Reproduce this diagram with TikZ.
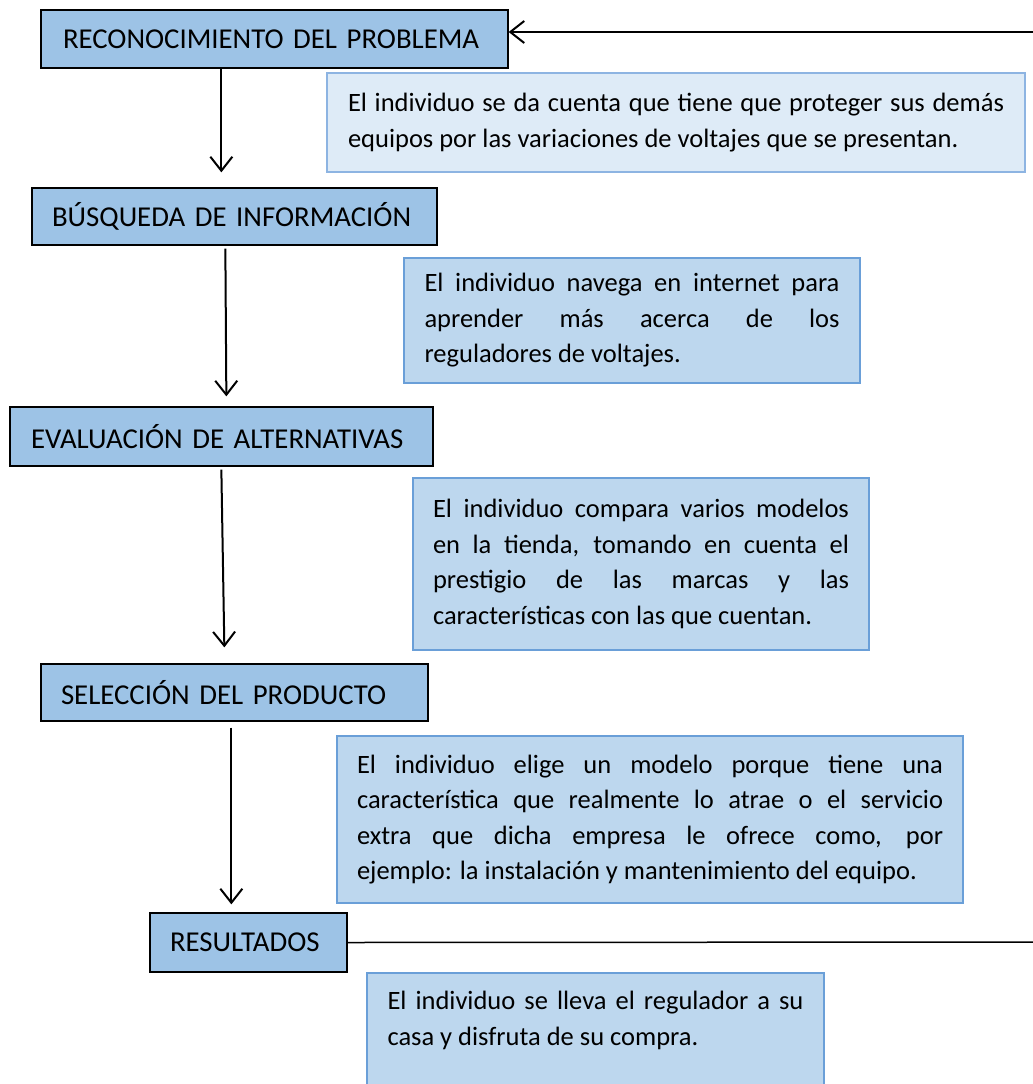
\documentclass[tikz,border=0pt]{standalone}
\usepackage{fontspec}
\setmainfont{Carlito}
\usetikzlibrary{arrows.meta,calc}
\definecolor{stepfill}{HTML}{9DC3E6}
\definecolor{notefill}{HTML}{BDD7EE}
\definecolor{noteborder}{HTML}{6A9FD8}
\definecolor{notelight}{HTML}{DEEBF7}
\definecolor{notelightborder}{HTML}{8DB4E2}
\begin{document}
\begin{tikzpicture}[x=1pt,y=-1pt,
  stepbox/.style={draw=black, line width=1.3pt, fill=stepfill, rectangle, inner sep=0pt, align=left, font=\fontsize{28.8}{32}\selectfont},
  note/.style={draw=noteborder, line width=1.5pt, fill=notefill, rectangle, inner sep=0pt, align=justify, font=\fontsize{26.5}{35.5}\selectfont},
  arr/.style={line width=2pt, -{Straight Barb[length=14pt,width=22pt,line width=2pt]}},
  plain/.style={line width=1.5pt}]
\useasboundingbox (0,0) rectangle (1033,1084);
\clip (0,0) rectangle (1033,1084);
\fill[white] (0,0) rectangle (1033,1084);

% step boxes
\node[stepbox, minimum width=467, minimum height=58, text width=423] (reco) at (274.5,39) {RECONOCIMIENTO DEL PROBLEMA};
\node[stepbox, minimum width=405, minimum height=57, text width=365] (busq) at (234.5,216.5) {BÚSQUEDA DE INFORMACIÓN};
\node[stepbox, minimum width=423, minimum height=59, text width=381] (eval) at (221.5,436.5) {EVALUACIÓN DE ALTERNATIVAS};
\node[stepbox, minimum width=387, minimum height=57, text width=347] (sel) at (234.5,692.5) {SELECCIÓN DEL PRODUCTO};
\node[stepbox, minimum width=197, minimum height=59, text width=157] (res) at (248.5,942.5) {RESULTADOS};

% notes
\node[note, draw=notelightborder, fill=notelight, minimum width=698, minimum height=99, text width=656] (n1) at (676,122.5)
  {El individuo se da cuenta que tiene que proteger sus demás\linebreak equipos por las variaciones de voltajes que se presentan.};
\node[note, minimum width=456, minimum height=125, text width=415] (n2) at (632,320.5)
  {El individuo navega en internet para\linebreak aprender más acerca de los\linebreak reguladores de voltajes.};
\node[note, minimum width=456, minimum height=172, text width=416] (n3) at (641,564)
  {El individuo compara varios modelos\linebreak en la tienda, tomando en cuenta el\linebreak prestigio de las marcas y las\linebreak características con las que cuentan.};
\node[note, minimum width=626, minimum height=167, text width=586] (n4) at (650,819.5)
  {El individuo elige un modelo porque tiene una\linebreak característica que realmente lo atrae o el servicio\linebreak extra que dicha empresa le ofrece como, por\linebreak ejemplo: la instalación y mantenimiento del equipo.};
\node[note, minimum width=457, minimum height=126, text width=416] (n5) at (595.5,1036)
  {El individuo se lleva el regulador a su\linebreak casa y disfruta de su compra.\par\mbox{}};

% connectors
\coordinate (topR) at (1033,32);
\coordinate (botR) at (1033,942);
\draw[arr] (topR) -- (reco.east |- topR);
\draw[plain] (res.east) -- (botR);
\draw[arr] ($(reco.south west)+(181,0)$) -- ($(busq.north west)+(190,-15)$);
\draw[arr] ($(busq.south west)+(194,3)$) -- ($(eval.north west)+(217,-10)$);
\draw[arr] ($(eval.south west)+(212,3)$) -- ($(sel.north west)+(184,-16)$);
\draw[arr] ($(sel.south west)+(191,6)$) -- ($(res.north west)+(82,-8)$);
\end{tikzpicture}
\end{document}
